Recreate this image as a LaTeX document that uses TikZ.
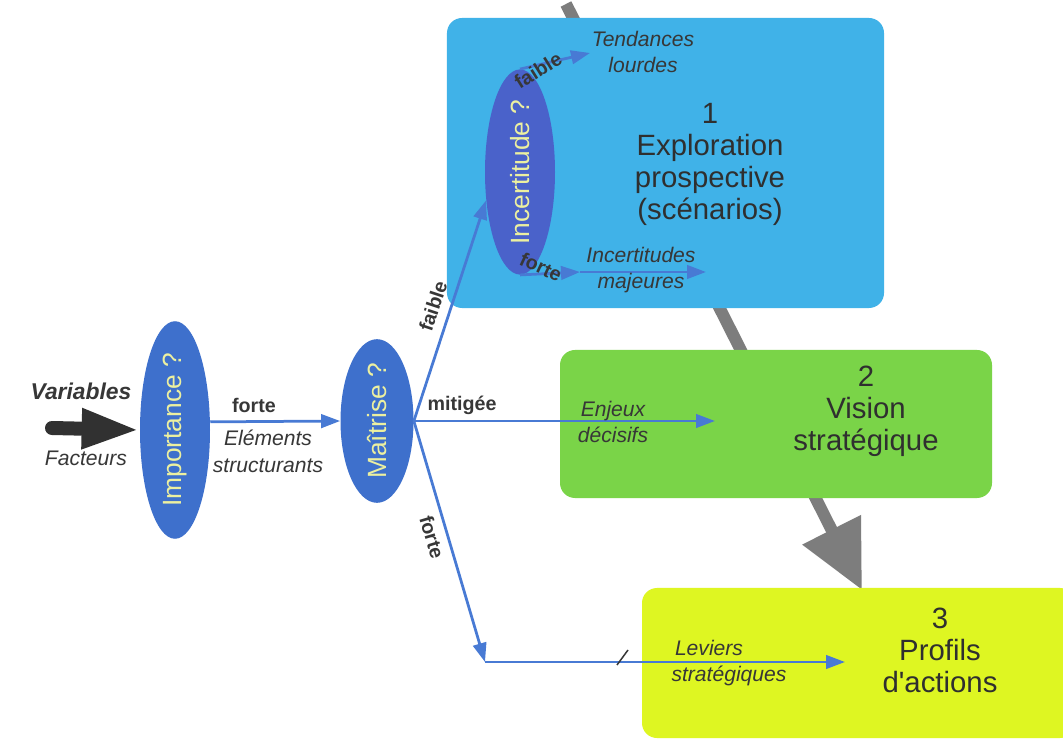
\documentclass[tikz,border=0pt]{standalone}
\usepackage{fontspec}
\setmainfont{Liberation Sans}[Ligatures=TeXOff]
\usepackage{graphicx}
\usepackage{color}
\usetikzlibrary{arrows.meta,shapes.geometric}
\definecolor{boxblue}{RGB}{64,178,232}
\definecolor{boxgreen}{RGB}{122,212,72}
\definecolor{boxyellow}{RGB}{222,246,34}
\definecolor{ellblue}{RGB}{62,112,204}
\definecolor{incblue}{RGB}{74,98,202}
\definecolor{lineblue}{RGB}{72,122,212}
\definecolor{txtgray}{RGB}{55,55,55}
\definecolor{flowgray}{RGB}{125,125,125}
\definecolor{elltext}{RGB}{236,240,160}

\begin{document}
\begin{tikzpicture}[x=0.2mm,y=-0.2mm,
box/.style={rectangle,rounded corners=3mm,inner sep=0pt},
question/.style={ellipse,fill=ellblue,inner sep=0pt,text=elltext,font=\fontsize{15}{15}\selectfont},
flow/.style={draw=lineblue,line width=0.55mm,-{Triangle[length=3.8mm,width=2.7mm]}},
choice/.style={text=txtgray,font=\bfseries\fontsize{11.2}{13}\selectfont,inner sep=0pt},
result/.style={text=txtgray,font=\itshape\fontsize{12}{15.3}\selectfont,align=center,inner sep=0pt},
phase/.style={text=txtgray!85!black,font=\fontsize{16.7}{18.2}\selectfont,align=center,inner sep=0pt}]
\useasboundingbox[fill=white] (0,0) rectangle (1063,743);
\coordinate (gtop) at (566,4);
\coordinate (gtip) at (862,590);
\draw[flowgray,line width=2.4mm,-{Triangle[length=13.5mm,width=12.5mm]}] (gtop) -- (gtip);
\node[box,fill=boxblue,minimum width=87.4mm,minimum height=58mm] (b1) at (665.5,163) {};
\node[box,fill=boxgreen,minimum width=86.4mm,minimum height=29.6mm] (b2) at (776,424) {};
\node[box,fill=boxyellow,minimum width=86.6mm,minimum height=30mm] (b3) at (858.5,663) {};
\node[question,minimum width=14mm,minimum height=32mm] (imp) at (175,430) {\rotatebox{90}{Importance ?}};
\node[question,minimum width=14.6mm,minimum height=30.4mm] (mai) at (377,421) {\rotatebox{90}{Maîtrise ?}};
\node[question,fill=incblue,minimum width=14mm,minimum height=30mm] (inc) at (520,172) {\rotatebox{90}{Incertitude ?}};
\coordinate (vt) at (52,428);
\draw[txtgray!90!black,line width=2.8mm,line cap=round,-{Triangle[length=11.6mm,width=7.4mm]}] (vt) -- (imp.west);
\node[result,font=\bfseries\itshape\fontsize{13}{15}\selectfont] (lvar) at (81,391) {Variables};
\node[result] (lfac) at (86,458) {Facteurs};
\draw[flow] (imp.13) -- (mai.west);
\node[choice] (lforte) at (254,405) {forte};
\node[result] (lelem) at (268,451) {Eléments\\structurants};
\coordinate (ej) at (715,421);
\coordinate (lc) at (485,662);
\coordinate (lv) at (845,662);
\draw[flow] (mai.east) -- (inc.220);
\draw[flow] (mai.east) -- (ej);
\draw[flow] (mai.east) -- (lc);
\draw[flow] (lc) -- (lv);
\node[choice,rotate=71.6] (lfaible) at (433,306) {faible};
\node[choice] (lmit) at (462,405) {mitigée};
\node[choice,rotate=-73.4] (lforte2) at (432,537) {forte};
\coordinate (td) at (590,53);
\coordinate (ic) at (580,272);
\coordinate (im) at (706,272);
\draw[flow] (inc.north) -- (td);
\draw[flow] (inc.south) -- (ic);
\draw[flow] (ic) -- (im);
\node[choice,rotate=32] (lfaible2) at (538,70) {faible};
\node[choice,rotate=-25] (lforte3) at (541,267) {forte};
\node[result] (ltend) at (643,52) {Tendances\\lourdes};
\node[result] (lincm) at (641,270) {Incertitudes\\majeures};
\node[result] (lenj) at (613,422) {Enjeux\\décisifs};
\node[result] (llev) at (729,663) {Leviers\hspace*{8mm}\\stratégiques};
\draw[txtgray,line width=0.3mm] (617,665) -- (628,650);
\node[phase] (p1) at (710,164) {1\\Exploration\\prospective\\(scénarios)};
\node[phase] (p2) at (866,411) {2\\Vision\\stratégique};
\node[phase] (p3) at (940,650) {3\\Profils\\d'actions};
\end{tikzpicture}
\end{document}
